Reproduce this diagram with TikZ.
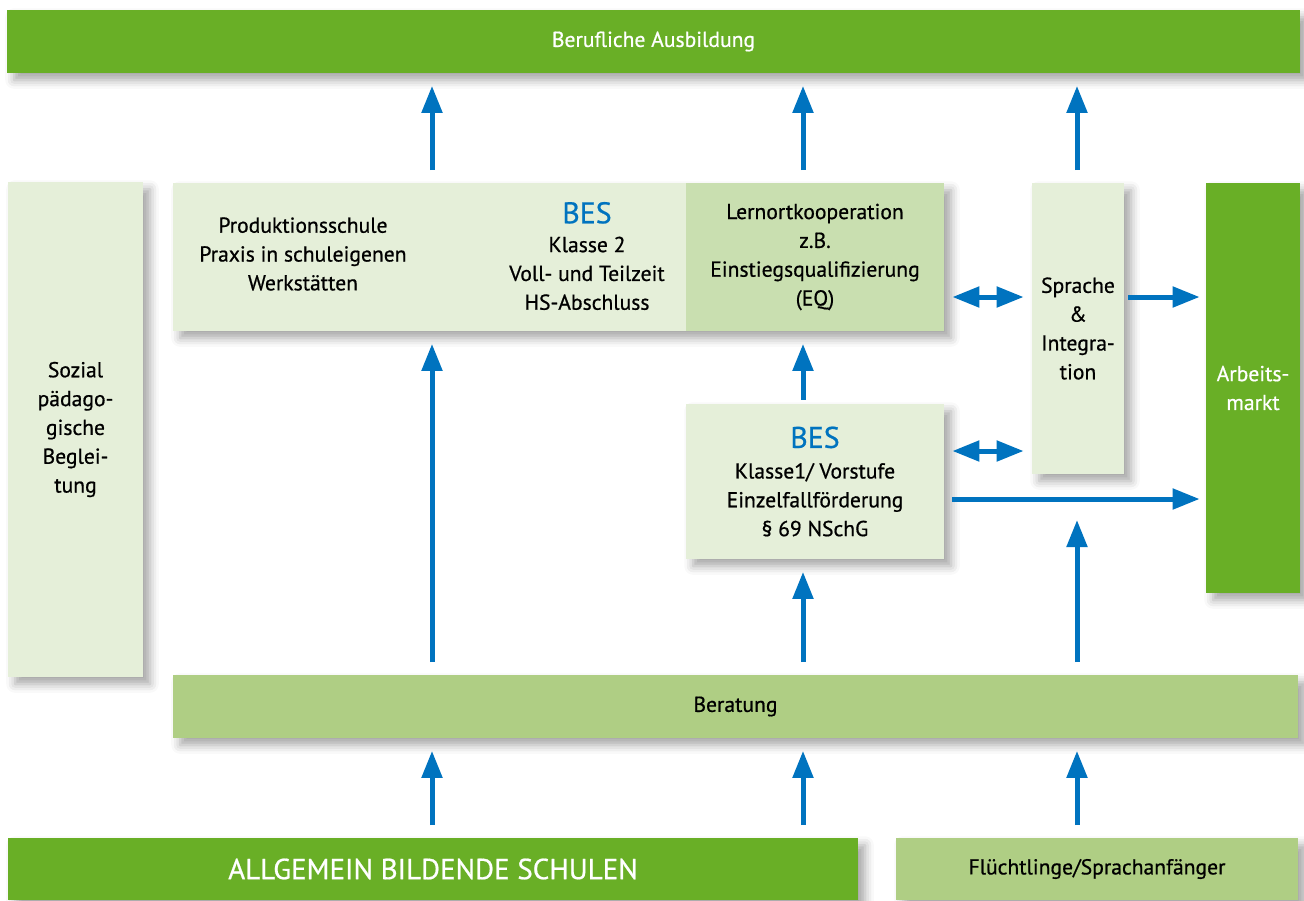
\documentclass[tikz,border=0pt]{standalone}
\usepackage{fontspec}
\setmainfont{PT Sans}[FakeBold=0.7]
\usepackage{tikz}
\usetikzlibrary{calc, arrows.meta, shadows.blur}
\definecolor{dunkelgruen}{HTML}{69AF26}
\definecolor{hellgruen}{HTML}{E5EFD9}
\definecolor{mittelgruen}{HTML}{C9DFB0}
\definecolor{beratgruen}{HTML}{AFCE84}
\definecolor{pfeilblau}{HTML}{0073BF}
\tikzstyle{inhalt} = [align=center, inner sep=0pt, font=\fontsize{12.3}{16.4}\selectfont]
\tikzstyle{kasten} = [rectangle, inhalt, blur shadow={shadow xshift=4pt, shadow yshift=-4pt, shadow blur radius=5pt, shadow opacity=35}]
\tikzstyle{dunkel} = [kasten, fill=dunkelgruen, text=white]
\tikzstyle{hell} = [kasten, fill=hellgruen]
\tikzstyle{mittel} = [rectangle, inhalt, fill=mittelgruen]
\tikzstyle{berat} = [kasten, fill=beratgruen]
\tikzstyle{pfeil} = [-{Triangle[length=0.54cm, width=0.4cm]}, line width=0.1cm, draw=pfeilblau, shorten >=0.25cm, shorten <=0.25cm]
\tikzstyle{doppel} = [{Triangle[length=0.54cm, width=0.4cm]}-{Triangle[length=0.54cm, width=0.4cm]}, line width=0.1cm, draw=pfeilblau, shorten >=0.16cm, shorten <=0.16cm]
\newcommand{\bes}{{\fontsize{17}{19}\selectfont\color{pfeilblau}BES}}

\begin{document}
\begin{tikzpicture}

        \useasboundingbox (0,0) rectangle (26.08,-18);

        \node (beruf) [dunkel, minimum width=25.86cm, minimum height=1.26cm] at (13.07,-0.83) {Berufliche Ausbildung};

        \node (sozial) [hell, minimum width=2.7cm, minimum height=9.9cm] at (1.51,-8.59) {Sozial\\pädago-\\gische\\Beglei-\\tung};

        \node (haupt) [hell, minimum width=15.42cm, minimum height=2.96cm] at (11.17,-5.14) {};
        \node (lern) [mittel, minimum width=5.16cm, minimum height=2.96cm] at (16.3,-5.14) {Lernortkooperation\\z.B.\\Einstiegsqualifizierung\\(EQ)};
        \node (prod) [inhalt] at (6.06,-5.08) {Produktionsschule\\Praxis in schuleigenen\\Werkstätten};
        \node (bes2) [inhalt] at (11.74,-5.12) {\bes\\Klasse 2\\Voll- und Teilzeit\\HS-Abschluss};

        \node (sprache) [hell, minimum width=1.84cm, minimum height=5.82cm] at (21.56,-6.57) {Sprache\\\&\\Integra-\\tion};
        \node (arbeit) [dunkel, minimum width=1.88cm, minimum height=8.2cm] at (25.06,-7.76) {Arbeits-\\markt};

        \node (bes1) [hell, minimum width=5.16cm, minimum height=3.1cm] at (16.3,-9.63) {\bes\\[1pt]Klasse1/ Vorstufe\\Einzelfallförderung\\\S\ 69 NSchG};

        \node (berat) [berat, minimum width=22.5cm, minimum height=1.26cm] at (14.71,-14.13) {Beratung};

        \node (schulen) [dunkel, minimum width=17cm, minimum height=1.24cm, font=\fontsize{16.5}{18}\selectfont] at (8.66,-17.38) {ALLGEMEIN BILDENDE SCHULEN};
        \node (fluecht) [berat, minimum width=8.04cm, minimum height=1.24cm] at (21.94,-17.38) {Flüchtlinge/Sprachanfänger};

        \coordinate (s1) at (8.64,0);
        \coordinate (s2) at (16.06,0);
        \coordinate (s3) at (21.54,0);
        \coordinate (z1) at (0,-5.94);
        \coordinate (z2) at (0,-9.02);
        \coordinate (z3) at (0,-9.98);

        \draw [pfeil] (s1 |- haupt.north) -- (s1 |- beruf.south);
        \draw [pfeil] (s2 |- haupt.north) -- (s2 |- beruf.south);
        \draw [pfeil] (s3 |- sprache.north) -- (s3 |- beruf.south);

        \draw [pfeil] (s1 |- berat.north) -- (s1 |- haupt.south);
        \draw [pfeil] (s2 |- berat.north) -- (s2 |- bes1.south);
        \draw [pfeil, shorten <=0.08cm] (s2 |- bes1.north) -- (s2 |- lern.south);
        \draw [pfeil, shorten >=0.42cm] (s3 |- berat.north) -- (s3 |- z3);

        \draw [pfeil] (s1 |- schulen.north) -- (s1 |- berat.south);
        \draw [pfeil] (s2 |- schulen.north) -- (s2 |- berat.south);
        \draw [pfeil] (s3 |- fluecht.north) -- (s3 |- berat.south);

        \draw [doppel] (lern.east |- z1) -- (sprache.west |- z1);
        \draw [doppel] (bes1.east |- z2) -- (sprache.west |- z2);
        \draw [pfeil, shorten <=0.08cm, shorten >=0.12cm] (sprache.east |- z1) -- (arbeit.west |- z1);
        \draw [pfeil, shorten <=0.16cm, shorten >=0.12cm] (bes1.east |- z3) -- (arbeit.west |- z3);

    \end{tikzpicture}
\end{document}
